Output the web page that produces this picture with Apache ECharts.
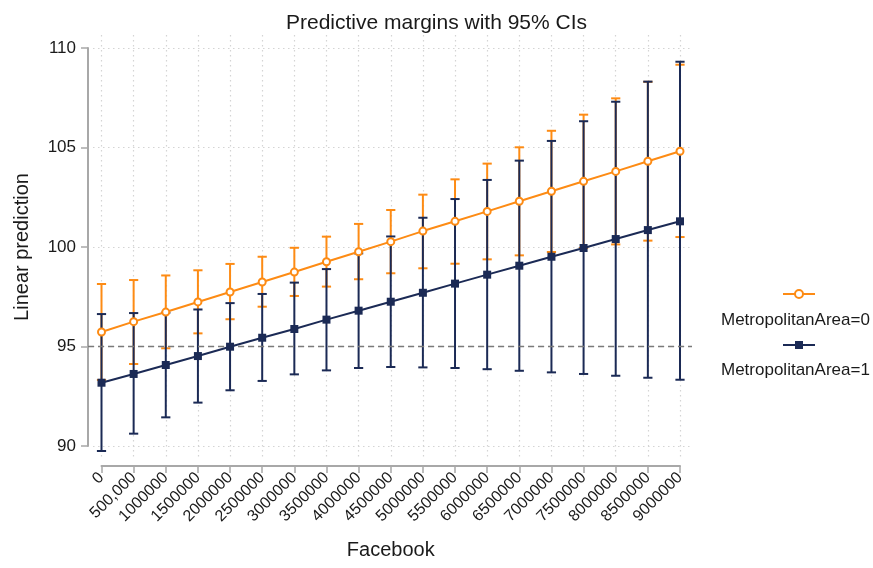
<!DOCTYPE html>
<html>
<head>
<meta charset="utf-8">
<script src="https://cdn.jsdelivr.net/npm/echarts@6/dist/echarts.min.js"></script>
<style>
  html, body { margin: 0; padding: 0; background: #fff; }
  #chart { width: 873px; height: 568px; }
</style>
</head>
<body>
<div id="chart"></div>
<script>
const facebook = [0, 500000, 1000000, 1500000, 2000000, 2500000, 3000000, 3500000, 4000000, 4500000,
  5000000, 5500000, 6000000, 6500000, 7000000, 7500000, 8000000, 8500000, 9000000];
const xTickLabels = ['0', '500,000', '1000000', '1500000', '2000000', '2500000', '3000000', '3500000',
  '4000000', '4500000', '5000000', '5500000', '6000000', '6500000', '7000000', '7500000', '8000000',
  '8500000', '9000000'];
const yTicks = [90, 95, 100, 105, 110];
const seriesNames = ['MetropolitanArea=0', 'MetropolitanArea=1'];

const metro0 = [95.73, 96.25, 96.73, 97.24, 97.74, 98.24, 98.74, 99.26, 99.76, 100.27,
  100.80, 101.29, 101.79, 102.30, 102.80, 103.30, 103.80, 104.31, 104.81];
const metro0Upper = [98.14, 98.34, 98.57, 98.83, 99.15, 99.51, 99.96, 100.52, 101.16, 101.86,
  102.63, 103.40, 104.19, 105.01, 105.84, 106.65, 107.47, 108.30, 109.16];
const metro0Lower = [93.32, 94.12, 94.91, 95.66, 96.37, 97.00, 97.54, 98.01, 98.38, 98.68,
  98.93, 99.16, 99.38, 99.58, 99.75, 99.95, 100.13, 100.32, 100.50];

const metro1 = [93.18, 93.62, 94.07, 94.52, 94.99, 95.44, 95.88, 96.35, 96.80, 97.25,
  97.70, 98.16, 98.61, 99.06, 99.51, 99.95, 100.40, 100.85, 101.29];
const metro1Upper = [96.63, 96.68, 96.70, 96.86, 97.18, 97.64, 98.21, 98.89, 99.68, 100.53,
  101.47, 102.41, 103.37, 104.34, 105.33, 106.32, 107.30, 108.31, 109.31];
const metro1Lower = [89.75, 90.62, 91.44, 92.18, 92.80, 93.27, 93.60, 93.80, 93.92, 93.97,
  93.95, 93.92, 93.86, 93.78, 93.70, 93.62, 93.53, 93.43, 93.33];

const refLineY = 95;

const ORANGE = '#fd8b14';
const NAVY = '#1b2a55';
const AXIS_GREY = '#a8a8a8';
const GRID_GREY = '#d4d4d4';
const TEXT = '#1a1a1a';
const FONT = '"Liberation Sans", Arial, sans-serif';

const chart = echarts.init(document.getElementById('chart'), null, { renderer: 'canvas' });

function ciData(lo, hi) {
  return facebook.map((x, i) => [x, lo[i], hi[i]]);
}
function lineData(v) {
  return facebook.map((x, i) => [x, v[i]]);
}
function ciRender(color) {
  return function (params, api) {
    const x = api.value(0);
    const pLo = api.coord([x, api.value(1)]);
    const pHi = api.coord([x, api.value(2)]);
    const hw = 4.6;
    const style = { stroke: color, lineWidth: 2, fill: null };
    return {
      type: 'group',
      children: [
        { type: 'line', shape: { x1: pLo[0], y1: pLo[1], x2: pHi[0], y2: pHi[1] }, style: style },
        { type: 'line', shape: { x1: pHi[0] - hw, y1: pHi[1], x2: pHi[0] + hw, y2: pHi[1] }, style: style },
        { type: 'line', shape: { x1: pLo[0] - hw, y1: pLo[1], x2: pLo[0] + hw, y2: pLo[1] }, style: style }
      ]
    };
  };
}

const option = {
  animation: false,
  backgroundColor: '#ffffff',
  textStyle: { fontFamily: FONT },
  title: {
    text: 'Predictive margins with 95% CIs',
    left: 'center',
    top: 8,
    textStyle: { fontFamily: FONT, fontSize: 21, fontWeight: 'normal', color: TEXT }
  },
  legend: {
    data: seriesNames,
    orient: 'vertical',
    left: 777,
    top: 284,
    itemWidth: 32,
    itemHeight: 10,
    itemGap: 41,
    formatter: function () { return ''; },
    selectedMode: false
  },
  graphic: [
    { type: 'text', left: 721, top: 312, style: { text: seriesNames[0], font: '17px ' + FONT, fill: TEXT } },
    { type: 'text', left: 721, top: 362, style: { text: seriesNames[1], font: '17px ' + FONT, fill: TEXT } }
  ],
  grid: [
    { left: 101.5, right: 193, top: 48, bottom: 122 },
    { left: 101.5, right: 193, top: 35, bottom: 110 },
    { left: 93, right: 181, top: 48, bottom: 122 },
    { left: 88, right: 181, top: 48, bottom: 122 }
  ],
  xAxis: [
    {
      gridIndex: 0, type: 'value', min: 0, max: 9000000, interval: 500000,
      offset: 20,
      name: 'Facebook', nameLocation: 'middle', nameGap: 74,
      nameTextStyle: { fontFamily: FONT, fontSize: 20, color: TEXT },
      axisLine: { show: true, onZero: false, lineStyle: { color: AXIS_GREY, width: 2 } },
      axisTick: { show: true, length: 7, lineStyle: { color: AXIS_GREY, width: 1.5 } },
      axisLabel: {
        rotate: 45, margin: 9, fontFamily: FONT, fontSize: 16, color: TEXT,
        formatter: function (v) { return xTickLabels[Math.round(v / 500000)]; }
      },
      splitLine: { show: false }
    },
    {
      gridIndex: 1, type: 'value', min: 0, max: 9000000, interval: 500000,
      axisLine: { show: false }, axisTick: { show: false }, axisLabel: { show: false },
      splitLine: { show: true, lineStyle: { color: GRID_GREY, width: 1.2, type: [1.5, 3.5] } }
    },
    { gridIndex: 2, type: 'value', min: 0, max: 1, show: false },
    { gridIndex: 3, type: 'value', min: 0, max: 1, show: false }
  ],
  yAxis: [
    {
      gridIndex: 0, type: 'value', min: yTicks[0], max: yTicks[yTicks.length - 1], interval: 5,
      offset: 13.5,
      name: 'Linear prediction', nameLocation: 'middle', nameGap: 56,
      nameTextStyle: { fontFamily: FONT, fontSize: 20, color: TEXT },
      axisLine: { show: true, onZero: false, lineStyle: { color: AXIS_GREY, width: 2 } },
      axisTick: { show: true, length: 7, lineStyle: { color: AXIS_GREY, width: 1.5 } },
      axisLabel: { margin: 12, fontFamily: FONT, fontSize: 17, color: TEXT },
      splitLine: { show: false }
    },
    { gridIndex: 1, type: 'value', min: 0, max: 1, show: false },
    {
      gridIndex: 2, type: 'value', min: yTicks[0], max: yTicks[yTicks.length - 1], interval: 5,
      axisLine: { show: false }, axisTick: { show: false }, axisLabel: { show: false },
      splitLine: { show: true, lineStyle: { color: GRID_GREY, width: 1.2, type: [1.5, 3.5] } }
    },
    { gridIndex: 3, type: 'value', min: yTicks[0], max: yTicks[yTicks.length - 1], show: false }
  ],
  series: [
    {
      name: 'refline', type: 'line', xAxisIndex: 3, yAxisIndex: 3,
      data: [[0, refLineY], [1, refLineY]], symbol: 'none', silent: true,
      lineStyle: { color: '#7a7a7a', width: 1.5, type: [6, 4] }
    },
    {
      name: 'ci0', type: 'custom', xAxisIndex: 0, yAxisIndex: 0, clip: false,
      data: ciData(metro0Lower, metro0Upper), renderItem: ciRender(ORANGE), silent: true
    },
    {
      name: 'ci1', type: 'custom', xAxisIndex: 0, yAxisIndex: 0, clip: false,
      data: ciData(metro1Lower, metro1Upper), renderItem: ciRender(NAVY), silent: true
    },
    {
      name: seriesNames[0], type: 'line', xAxisIndex: 0, yAxisIndex: 0, clip: false,
      data: lineData(metro0),
      symbol: 'emptyCircle', symbolSize: 7,
      color: ORANGE,
      itemStyle: { color: ORANGE, borderColor: ORANGE, borderWidth: 1.8 },
      lineStyle: { color: ORANGE, width: 2 }
    },
    {
      name: seriesNames[1], type: 'line', xAxisIndex: 0, yAxisIndex: 0, clip: false,
      data: lineData(metro1),
      symbol: 'rect', symbolSize: 8,
      color: NAVY,
      itemStyle: { color: NAVY },
      lineStyle: { color: NAVY, width: 2 }
    }
  ]
};

chart.setOption(option);
</script>
</body>
</html>
